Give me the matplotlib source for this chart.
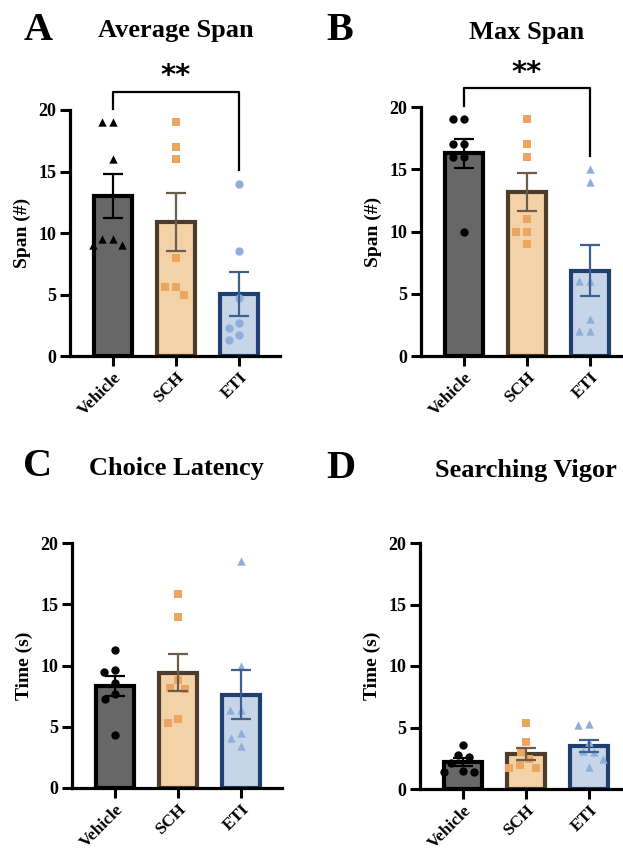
import numpy as np
import matplotlib
matplotlib.use("Agg")
import matplotlib.pyplot as plt

plt.rcParams['font.family'] = ['Liberation Serif', 'DejaVu Serif']
plt.rcParams['font.weight'] = 'bold'

groups = ["Vehicle", "SCH", "ETI"]

# individual animals
avg_span = [[19, 19, 16, 9, 9.5, 9, 9.5],
            [19, 17, 16, 8, 5.6, 5.6, 5.0],
            [14, 8.5, 4.7, 2.7, 2.3, 1.7, 1.3]]
max_span = [[19, 19, 17, 17, 16, 16, 10],
            [19, 17, 16, 11, 10, 10, 9],
            [15, 14, 6, 6, 3, 2, 2]]
choice_lat = [[11.3, 9.5, 9.6, 8.6, 7.7, 7.3, 4.3],
              [15.8, 14.0, 8.8, 8.1, 8.2, 5.6, 5.3],
              [18.5, 10.0, 6.4, 6.4, 4.5, 4.1, 3.4]]
search_vigor = [[3.6, 2.8, 2.6, 2.1, 1.5, 1.4, 1.4],
                [5.4, 3.8, 3.0, 2.4, 1.95, 1.7, 1.7],
                [5.3, 5.2, 3.8, 3.05, 3.0, 2.45, 1.8]]

bar_fill = ["#676767", "#f4d2a8", "#c6d5e8"]
bar_edge = ["#000000", "#4b3c2c", "#1f3f6e"]
pt_col = ["#000000", "#eca660", "#8eaedb"]
err_col = ["#000000", "#6c5c4c", "#3e5f8f"]
markers = [["^", "s", "o"], ["o", "s", "^"], ["o", "s", "^"], ["o", "s", "^"]]


def swarm(vals, px_x=63.0, px_y=12.3, d=11.0):
    # simple beeswarm in pixel space, returns x offsets in data units
    vals = np.asarray(vals, float)
    order = np.argsort(-vals)
    placed = []
    offs = np.zeros(len(vals))
    for i in order:
        y = vals[i] * px_y
        cands = [0.0]
        for (px, py) in placed:
            dy = abs(py - y)
            if dy < d:
                dx = np.sqrt(d * d - dy * dy)
                cands += [px - dx, px + dx]
        cands = sorted(cands, key=abs)
        for c in cands:
            ok = all((c - px) ** 2 + (y - py) ** 2 >= d * d - 1e-6 for px, py in placed)
            if ok:
                break
        placed.append((c, y))
        offs[i] = c / px_x
    return offs


def panel(ax, data, mk, ylabel, px_y):
    x = np.arange(len(groups))
    means = [np.mean(v) for v in data]
    sems = [np.std(v, ddof=1) / np.sqrt(len(v)) for v in data]
    ax.bar(x, means, width=0.6, color=bar_fill, edgecolor=bar_edge, linewidth=3, zorder=1)
    for i, v in enumerate(data):
        off = swarm(v, px_y=px_y)
        ax.scatter(x[i] + off, v, marker=mk[i], s=36, color=pt_col[i],
                   linewidths=0, zorder=3, clip_on=False)
        ax.errorbar(x[i], means[i], yerr=sems[i], color=err_col[i], lw=1.6,
                    capsize=7, capthick=1.6, zorder=4)
    ax.set_xlim(-0.68, 2.65)
    ax.set_ylim(0, 20)
    ax.set_yticks([0, 5, 10, 15, 20])
    ax.set_xticks(x)
    ax.set_xticklabels(groups, rotation=45, ha='right', rotation_mode='anchor',
                       fontsize=12.5, fontweight='bold')
    for lab in ax.get_yticklabels():
        lab.set_fontsize(13)
        lab.set_fontweight('bold')
    ax.set_ylabel(ylabel, fontsize=14, fontweight='bold', labelpad=5)
    for s in ["top", "right"]:
        ax.spines[s].set_visible(False)
    for s in ["left", "bottom"]:
        ax.spines[s].set_linewidth(2.3)
    ax.tick_params(axis='y', length=7.5, width=2.2, pad=2.5)
    ax.tick_params(axis='x', length=7, width=2.2, pad=2.5)


def bracket(ax, data):
    top = max(max(v) for v in data) + 2.5
    y0 = max(data[0]) + 1.1
    y2 = max(data[2]) + 1.1
    ax.plot([0, 0, 2, 2], [y0, top, top, y2], color='black', lw=1.6, clip_on=False)
    ax.text(1, top + 1.25, "**", ha='center', va='center', fontsize=21,
            fontweight='bold', family='DejaVu Sans')


fig = plt.figure(figsize=(6.23, 8.52), dpi=100)
W, H = 623.0, 852.0

def make_ax(left, right, bottom, top):
    return fig.add_axes([left / W, 1 - bottom / H, (right - left) / W, (bottom - top) / H])

axA = make_ax(70, 280, 356, 110)
axB = make_ax(421, 631, 356, 107)
axC = make_ax(72, 282, 788, 543)
axD = make_ax(420, 630, 789, 543)

panel(axA, avg_span, markers[0], "Span (#)", 12.3)
panel(axB, max_span, markers[1], "Span (#)", 12.45)
panel(axC, choice_lat, markers[2], "Time (s)", 12.25)
panel(axD, search_vigor, markers[3], "Time (s)", 12.3)
bracket(axA, avg_span)
bracket(axB, max_span)

def label(x, y, s, size):
    fig.text(x / W, 1 - y / H, s, ha='center', va='center', fontsize=size, fontweight='bold')

label(38, 30, "A", 29)
label(176, 31, "Average Span", 19)
label(340, 30, "B", 29)
label(527, 33, "Max Span", 19)
label(38, 466, "C", 29)
label(176, 468, "Choice Latency", 19)
label(341, 468, "D", 29)
label(526, 470, "Searching Vigor", 19)

fig.savefig("out.png", dpi=100)
